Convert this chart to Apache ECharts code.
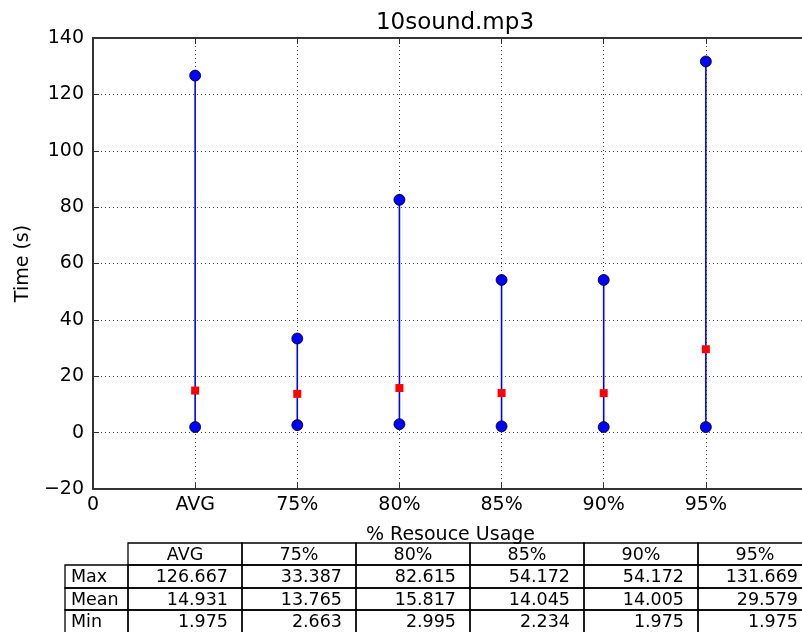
<!DOCTYPE html>
<html>
<head>
<meta charset="utf-8">
<script src="https://cdn.jsdelivr.net/npm/echarts@6/dist/echarts.min.js"></script>
<style>
  html, body { margin: 0; padding: 0; background: #fff; }
  #chart { width: 802px; height: 632px; }
</style>
</head>
<body>
<div id="chart"></div>
<script>
// data
const categories = ['AVG', '75%', '80%', '85%', '90%', '95%']
const maxValues = [126.667, 33.387, 82.615, 54.172, 54.172, 131.669]
const meanValues = [14.931, 13.765, 15.817, 14.045, 14.005, 29.579]
const minValues = [1.975, 2.663, 2.995, 2.234, 1.975, 1.975]
const rowLabels = ['Max', 'Mean', 'Min']
const yTicks = [-20, 0, 20, 40, 60, 80, 100, 120, 140]

const font = 'DejaVu Sans'
const chart = echarts.init(document.getElementById('chart'))

// vertical range lines, one per category
const rangeData = []
categories.forEach((c, i) => {
  rangeData.push([i + 1, minValues[i]])
  rangeData.push([i + 1, maxValues[i]])
  rangeData.push('-')
})
const extremes = []
categories.forEach((c, i) => {
  extremes.push([i + 1, maxValues[i]])
  extremes.push([i + 1, minValues[i]])
})
const means = meanValues.map((v, i) => [i + 1, v])

// table below the plot
const colX = [65, 128, 242, 356, 470, 584, 698, 812]
const rowY = [543, 565, 588, 610, 633]
const tableRows = [maxValues, meanValues, minValues]
const graphic = []
const cellStyle = { fill: 'none', stroke: '#000', lineWidth: 1.3 }
const textStyle = (t, x, y, align) => ({
  type: 'text',
  x: x, y: y,
  style: { text: t, font: '17.5px "' + font + '"', fill: '#000', align: align, verticalAlign: 'middle' }
})
categories.forEach((c, j) => {
  graphic.push({ type: 'rect', shape: { x: colX[j + 1], y: rowY[0], width: colX[j + 2] - colX[j + 1], height: rowY[1] - rowY[0] }, style: cellStyle })
  graphic.push(textStyle(c, (colX[j + 1] + colX[j + 2]) / 2, (rowY[0] + rowY[1]) / 2 + 1, 'center'))
})
tableRows.forEach((row, r) => {
  const y0 = rowY[r + 1], y1 = rowY[r + 2]
  graphic.push({ type: 'rect', shape: { x: colX[0], y: y0, width: colX[1] - colX[0], height: y1 - y0 }, style: cellStyle })
  graphic.push(textStyle(rowLabels[r], colX[0] + 6, (y0 + y1) / 2 + 1, 'left'))
  row.forEach((v, j) => {
    graphic.push({ type: 'rect', shape: { x: colX[j + 1], y: y0, width: colX[j + 2] - colX[j + 1], height: y1 - y0 }, style: cellStyle })
    graphic.push(textStyle(v.toFixed(3), colX[j + 2] - 14, (y0 + y1) / 2 + 1, 'right'))
  })
})

const frameLine = { show: true, onZero: false, lineStyle: { color: '#333', width: 2 } }
const innerTick = { show: true, inside: true, length: 6, lineStyle: { color: '#333' } }
const dotted = { show: true, lineStyle: { color: '#444', type: [1, 3], width: 1 } }

const option = {
  backgroundColor: '#fff',
  animation: false,
  title: {
    text: '10sound.mp3',
    left: 450, top: 7, textAlign: 'center',
    textStyle: { fontFamily: font, fontSize: 23, fontWeight: 'normal', color: '#000' }
  },
  grid: { left: 93, top: 38, width: 715, height: 451, outerBoundsMode: 'none', containLabel: false },
  xAxis: [{
    type: 'value', min: 0, max: 7, interval: 1,
    name: '% Resouce Usage', nameLocation: 'middle', nameGap: 37,
    nameTextStyle: { fontFamily: font, fontSize: 19, color: '#000' },
    axisLine: frameLine, axisTick: innerTick, splitLine: dotted,
    axisLabel: {
      fontFamily: font, fontSize: 19, color: '#000', margin: 7,
      formatter: v => v === 0 ? '0' : (categories[v - 1] || '')
    }
  }, {
    type: 'value', min: 0, max: 7, interval: 1, position: 'top',
    axisLine: frameLine, axisTick: innerTick, axisLabel: { show: false }, splitLine: { show: false }
  }],
  yAxis: [{
    type: 'value', min: yTicks[0], max: yTicks[yTicks.length - 1], interval: 20,
    name: 'Time (s)', nameLocation: 'middle', nameGap: 58,
    nameTextStyle: { fontFamily: font, fontSize: 19, color: '#000' },
    axisLine: frameLine, axisTick: innerTick, splitLine: dotted,
    axisLabel: {
      fontFamily: font, fontSize: 19, color: '#000', margin: 9,
      formatter: v => String(v).replace('-', '\u2212')
    }
  }, {
    type: 'value', min: yTicks[0], max: yTicks[yTicks.length - 1], interval: 20, position: 'right',
    axisLine: frameLine, axisTick: innerTick, axisLabel: { show: false }, splitLine: { show: false }
  }],
  series: [{
    type: 'line',
    data: rangeData,
    connectNulls: false,
    showSymbol: false,
    lineStyle: { color: '#0000ff', width: 1.6 },
    z: 2
  }, {
    type: 'scatter',
    data: extremes,
    symbol: 'circle', symbolSize: 11,
    itemStyle: { color: '#0000ff', borderColor: '#000', borderWidth: 0.8, opacity: 1 },
    z: 3
  }, {
    type: 'scatter',
    data: means,
    symbol: 'rect', symbolSize: 8,
    itemStyle: { color: '#ff0000', opacity: 1 },
    z: 3
  }],
  graphic: graphic
}
chart.setOption(option)
</script>
</body>
</html>
